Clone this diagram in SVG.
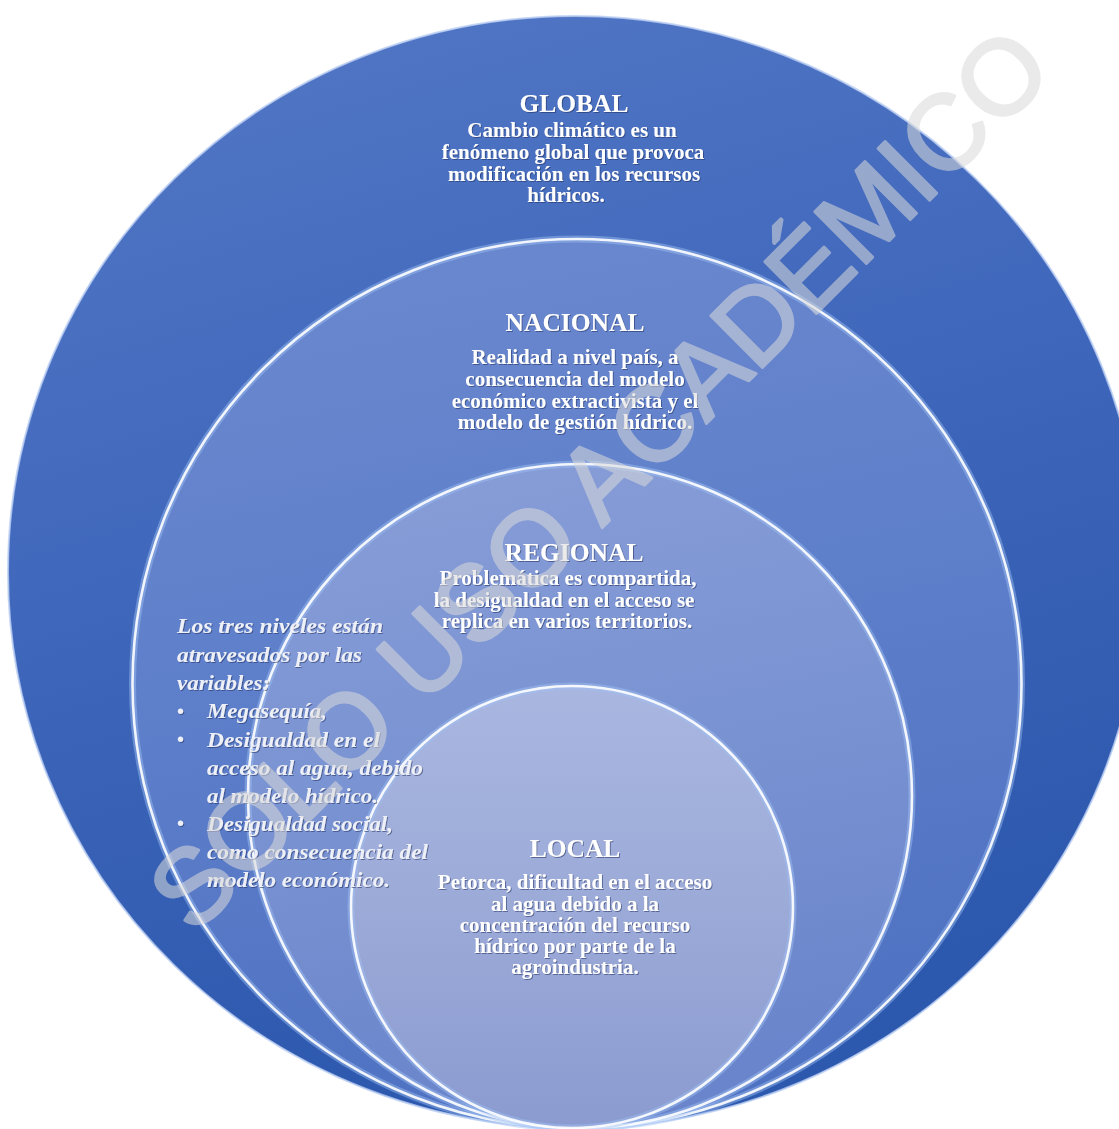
<svg xmlns="http://www.w3.org/2000/svg" width="1119" height="1129" viewBox="0 0 1119 1129">
<defs>
<linearGradient id="gOuter" x1="0" y1="0" x2="0.3" y2="1">
<stop offset="0" stop-color="#5478c6"/><stop offset="0.5" stop-color="#3f67bb"/><stop offset="1" stop-color="#2c58ad"/>
</linearGradient>
<linearGradient id="gNac" x1="0" y1="0" x2="0.2" y2="1">
<stop offset="0" stop-color="#6c89cf"/><stop offset="0.5" stop-color="#5e7fca"/><stop offset="1" stop-color="#4f72c2"/>
</linearGradient>
<linearGradient id="gReg" x1="0" y1="0" x2="0.2" y2="1">
<stop offset="0" stop-color="#889ed8"/><stop offset="0.5" stop-color="#7a93d2"/><stop offset="1" stop-color="#6a85cb"/>
</linearGradient>
<linearGradient id="gLoc" x1="0" y1="0" x2="0" y2="1">
<stop offset="0" stop-color="#a9b6e0"/><stop offset="0.5" stop-color="#9caad8"/><stop offset="1" stop-color="#8b9bd0"/>
</linearGradient>
<filter id="sh" x="-5%" y="-20%" width="110%" height="140%">
<feDropShadow dx="1" dy="1" stdDeviation="0.6" flood-color="#1a2d60" flood-opacity="0.55"/>
</filter>
</defs>
<style>
.glow{fill:none;stroke:#9fc0f5;stroke-width:7;stroke-opacity:0.45}
.edge{fill:none;stroke:#ffffff;stroke-width:2.6;stroke-opacity:0.9}
.ttl{font-family:"Liberation Serif","Times New Roman",serif;font-weight:bold;font-size:25.5px;fill:#ffffff;text-anchor:middle}
.body{font-family:"Liberation Serif","Times New Roman",serif;font-weight:bold;font-size:21px;fill:#ffffff;text-anchor:middle}
.note{font-family:"Liberation Serif","Times New Roman",serif;font-weight:bold;font-style:italic;font-size:22px;fill:#eef0f8}
.bul{font-family:"Liberation Sans",Arial,sans-serif;font-size:20px;fill:#eef0f8}
.wm{font-family:"Liberation Sans",Arial,sans-serif;font-size:106px;fill:#dadada;stroke:#dadada;stroke-width:3;stroke-linejoin:round;text-anchor:middle}
</style>

<g id="node-global">
<ellipse cx="575" cy="572" rx="567" ry="556" fill="url(#gOuter)"/>
<ellipse cx="575" cy="572" rx="567" ry="556" fill="none" stroke="#b9cdf3" stroke-width="2" stroke-opacity="0.8"/>
<g filter="url(#sh)">
<text class="ttl" x="574" y="112">GLOBAL</text>
<text class="body" x="572" y="137">Cambio climático es un</text>
<text class="body" x="573" y="159">fenómeno global que provoca</text>
<text class="body" x="574" y="180.5">modificación en los recursos</text>
<text class="body" x="566" y="202">hídricos.</text>
</g>
</g>

<g id="node-nacional">
<circle cx="577" cy="683.5" r="444.5" fill="url(#gNac)"/>
<circle cx="577" cy="683.5" r="444.5" class="glow"/>
<circle cx="577" cy="683.5" r="444.5" class="edge"/>
<g filter="url(#sh)">
<text class="ttl" x="575" y="331">NACIONAL</text>
<text class="body" x="575" y="364">Realidad a nivel país, a</text>
<text class="body" x="575" y="386">consecuencia del modelo</text>
<text class="body" x="575" y="407.5">económico extractivista y el</text>
<text class="body" x="575" y="429">modelo de gestión hídrico.</text>
</g>
</g>

<g id="node-regional">
<circle cx="580" cy="796" r="332" fill="url(#gReg)"/>
<circle cx="580" cy="796" r="332" class="glow"/>
<circle cx="580" cy="796" r="332" class="edge"/>
<g filter="url(#sh)">
<text class="ttl" x="574" y="560.5">REGIONAL</text>
<text class="body" x="568" y="585">Problemática es compartida,</text>
<text class="body" x="564" y="606.5">la desigualdad en el acceso se</text>
<text class="body" x="567" y="628">replica en varios territorios.</text>
</g>
</g>

<g id="node-local">
<circle cx="572" cy="907" r="221" fill="url(#gLoc)"/>
<circle cx="572" cy="907" r="221" class="glow"/>
<circle cx="572" cy="907" r="221" class="edge"/>
<g filter="url(#sh)">
<text class="ttl" x="575" y="857">LOCAL</text>
<text class="body" x="575" y="889">Petorca, dificultad en el acceso</text>
<text class="body" x="575" y="910.5">al agua debido a la</text>
<text class="body" x="575" y="931.5">concentración del recurso</text>
<text class="body" x="575" y="952.5">hídrico por parte de la</text>
<text class="body" x="575" y="974">agroindustria.</text>
</g>
</g>

<g id="note" filter="url(#sh)">
<text class="note" x="177" y="633" textLength="206" lengthAdjust="spacingAndGlyphs">Los tres niveles están</text>
<text class="note" x="177" y="662" textLength="185" lengthAdjust="spacingAndGlyphs">atravesados por las</text>
<text class="note" x="177" y="690" textLength="93" lengthAdjust="spacingAndGlyphs">variables:</text>
<text class="bul" x="177" y="718">•</text>
<text class="note" x="207" y="718" textLength="120" lengthAdjust="spacingAndGlyphs">Megasequía,</text>
<text class="bul" x="177" y="746">•</text>
<text class="note" x="207" y="746.5" textLength="173" lengthAdjust="spacingAndGlyphs">Desigualdad en el</text>
<text class="note" x="207" y="775" textLength="216" lengthAdjust="spacingAndGlyphs">acceso al agua, debido</text>
<text class="note" x="207" y="803" textLength="171" lengthAdjust="spacingAndGlyphs">al modelo hídrico.</text>
<text class="bul" x="177" y="830">•</text>
<text class="note" x="207" y="830.5" textLength="186" lengthAdjust="spacingAndGlyphs">Desigualdad social,</text>
<text class="note" x="207" y="859" textLength="221" lengthAdjust="spacingAndGlyphs">como consecuencia del</text>
<text class="note" x="207" y="887" textLength="183" lengthAdjust="spacingAndGlyphs">modelo económico.</text>
</g>

<g id="watermark" opacity="0.55" transform="translate(598,478) rotate(-45)">
<text class="wm" x="0" y="38">SOLO USO ACADÉMICO</text>
</g>
</svg>
